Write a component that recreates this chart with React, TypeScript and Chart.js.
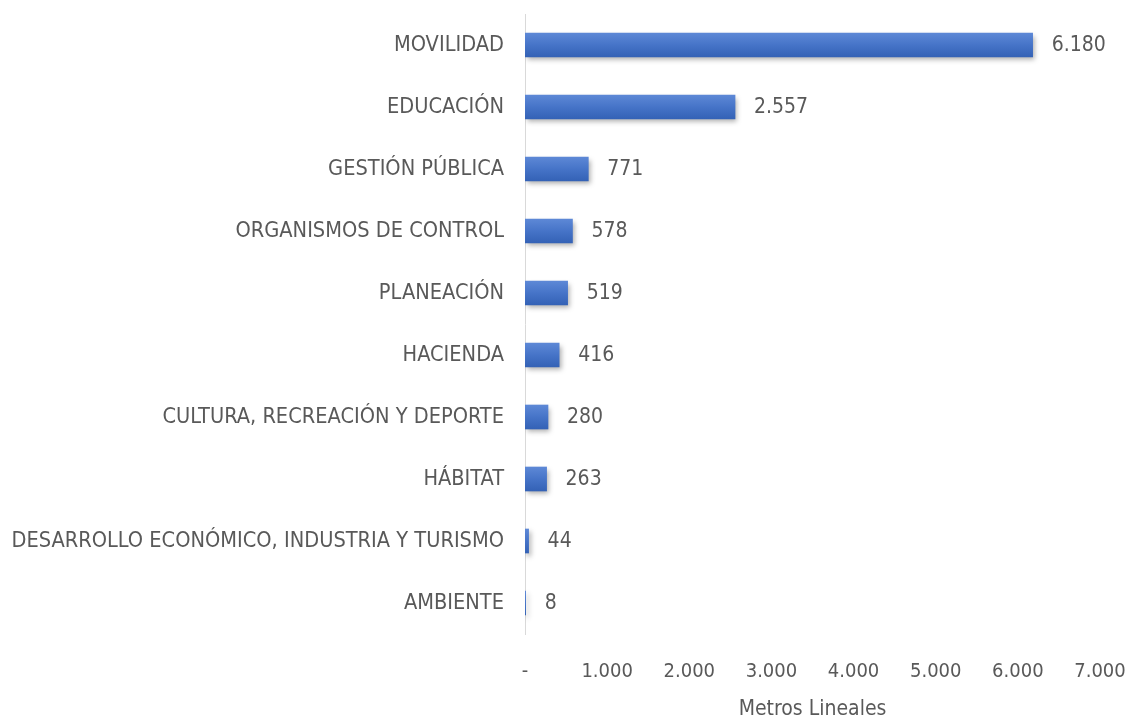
import React, { useEffect, useRef } from "react";
import { Chart, registerables } from "chart.js";

Chart.register(...registerables);

const categories = [
  "MOVILIDAD",
  "EDUCACIÓN",
  "GESTIÓN PÚBLICA",
  "ORGANISMOS DE CONTROL",
  "PLANEACIÓN",
  "HACIENDA",
  "CULTURA, RECREACIÓN Y DEPORTE",
  "HÁBITAT",
  "DESARROLLO ECONÓMICO, INDUSTRIA Y TURISMO",
  "AMBIENTE",
];
const values = [6180, 2557, 771, 578, 519, 416, 280, 263, 44, 8];
const xTicks = [0, 1000, 2000, 3000, 4000, 5000, 6000, 7000];
const axisTitle = "Metros Lineales";

const FONT = "'DejaVu Sans Condensed', 'Liberation Sans Narrow', sans-serif";
const TEXT = "#595959";

function fmt(v: number): string {
  if (v === 0) return "-";
  const s = Math.round(v).toString();
  return s.replace(/\B(?=(\d{3})+(?!\d))/g, ".");
}

const shadowPlugin = {
  id: "barShadow",
  beforeDatasetsDraw(chart: any) {
    const ctx = chart.ctx;
    ctx.save();
    ctx.shadowColor = "rgba(0,0,0,0.32)";
    ctx.shadowBlur = 5;
    ctx.shadowOffsetX = 2;
    ctx.shadowOffsetY = 3;
  },
  afterDatasetsDraw(chart: any) {
    const ctx = chart.ctx;
    ctx.restore();
    const meta = chart.getDatasetMeta(0);
    ctx.save();
    ctx.font = `21px ${FONT}`;
    ctx.fillStyle = TEXT;
    ctx.textAlign = "left";
    ctx.textBaseline = "middle";
    meta.data.forEach((el: any, i: number) => {
      ctx.fillText(fmt(values[i]), el.x + 19, el.y + 1);
    });
    ctx.restore();
  },
};

export default function App() {
  const ref = useRef<HTMLCanvasElement | null>(null);
  useEffect(() => {
    if (!ref.current) return;
    const chart = new Chart(ref.current, {
      type: "bar",
      data: {
        labels: categories,
        datasets: [
          {
            data: values,
            barThickness: 24,
            borderWidth: 0,
            backgroundColor: (c: any) => {
              const ch = c.chart;
              const ys = ch.scales && ch.scales.y;
              if (!ys || c.dataIndex === undefined) return "#4674c8";
              const y = ys.getPixelForValue(c.dataIndex);
              if (!Number.isFinite(y)) return "#4674c8";
              const g = ch.ctx.createLinearGradient(0, y - 12, 0, y + 12);
              g.addColorStop(0, "#5d88d6");
              g.addColorStop(0.5, "#4674c8");
              g.addColorStop(1, "#3462b6");
              return g;
            },
          },
        ],
      },
      options: {
        indexAxis: "y",
        responsive: true,
        maintainAspectRatio: false,
        animation: false,
        layout: { padding: { top: 14, right: 30, left: 0, bottom: 0 } },
        plugins: {
          legend: { display: false },
          tooltip: { enabled: false },
        },
        scales: {
          x: {
            min: 0,
            max: 7000,
            afterBuildTicks: (s: any) => {
              s.ticks = xTicks.map((v) => ({ value: v }));
            },
            afterFit: (s: any) => {
              s.height = 88;
              s.paddingLeft = 0;
              s.paddingRight = 0;
            },
            grid: { display: false, drawTicks: false },
            border: { display: false },
            ticks: {
              padding: 26,
              color: TEXT,
              font: { family: FONT, size: 20 },
              callback: (v: any) => fmt(Number(v)),
            },
            title: {
              display: true,
              text: axisTitle,
              color: TEXT,
              font: { family: FONT, size: 21 },
              padding: { top: 0, bottom: 0 },
            },
          },
          y: {
            afterFit: (s: any) => {
              s.width = 525;
              s.paddingTop = 0;
              s.paddingBottom = 0;
            },
            grid: { display: false, drawTicks: false },
            border: { display: true, color: "#d9d9d9", width: 1 },
            ticks: {
              padding: 21,
              color: TEXT,
              font: { family: FONT, size: 21.6 },
            },
          },
        },
      },
      plugins: [shadowPlugin],
    });
    return () => chart.destroy();
  }, []);
  return (
    <div style={{ position: "absolute", left: 0, top: 0, width: 1130, height: 722, background: "#fff" }}>
      <canvas ref={ref} />
    </div>
  );
}
